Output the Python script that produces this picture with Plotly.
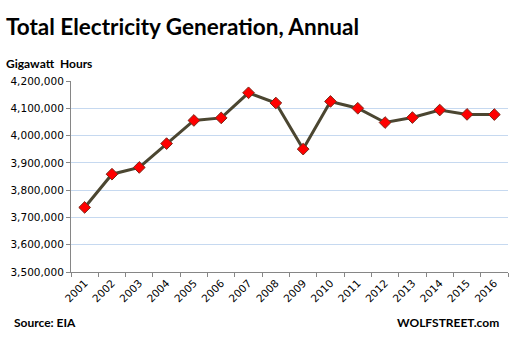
import plotly.graph_objects as go

years = [str(y) for y in range(2001, 2017)]
generation = [3736644, 3858452, 3883185, 3970555, 4055423, 4064702, 4156745, 4119388,
              3950331, 4125060, 4100141, 4047765, 4065964, 4093606, 4077601, 4077000]
y_ticks = [3500000, 3600000, 3700000, 3800000, 3900000, 4000000, 4100000, 4200000]

W, H = 514, 338
L, R, T, B = 71, 6, 81, 66
pw, ph = W - L - R, H - T - B

def px(x):
    return (x - L) / pw

def py(y):
    return (H - B - y) / ph

fig = go.Figure()
fig.add_trace(go.Scatter(
    x=years, y=generation, mode="lines+markers",
    line=dict(color="#4b4631", width=3),
    marker=dict(symbol="diamond", size=9, color="#ff0000",
                line=dict(color="#7a2a1a", width=1)),
    showlegend=False,
))

fig.update_layout(
    width=W, height=H,
    margin=dict(l=L, r=R, t=T, b=B),
    paper_bgcolor="white", plot_bgcolor="white",
    font=dict(family="DejaVu Sans", size=10.5, color="#000000"),
    xaxis=dict(
        type="category", showgrid=False, showline=True, linecolor="#868686", linewidth=1,
        ticks="outside", tickson="boundaries", ticklen=4, tickcolor="#868686",
        tickangle=-45, tickfont=dict(size=10.5), range=[-0.5, 15.5],
    ),
    yaxis=dict(
        range=[3500000, 4200000], tickvals=y_ticks,
        ticktext=[f"{v:,}" for v in y_ticks],
        showgrid=True, gridcolor="#c6d9f0", gridwidth=1,
        showline=True, linecolor="#868686", linewidth=1,
        ticks="outside", ticklen=4, tickcolor="#868686",
        zeroline=False, tickfont=dict(size=10.5),
    ),
    title=dict(
        text="<b>Total Electricity Generation, Annual</b>",
        x=6 / W, xanchor="left", xref="container",
        y=1 - 27 / H, yanchor="middle", yref="container",
        font=dict(family="Lato", size=22.5, color="#000000"),
    ),
)

fig.add_annotation(text="<b>Gigawatt  Hours</b>", xref="paper", yref="paper",
                   x=px(4), y=py(64), xanchor="left", yanchor="middle", showarrow=False,
                   font=dict(family="Lato", size=12, color="#000000"))
fig.add_annotation(text="<b>Source: EIA</b>", xref="paper", yref="paper",
                   x=px(12), y=py(322), xanchor="left", yanchor="middle", showarrow=False,
                   font=dict(family="Lato", size=12, color="#000000"))
fig.add_annotation(text="<b>WOLFSTREET.com</b>", xref="paper", yref="paper",
                   x=px(501), y=py(322), xanchor="right", yanchor="middle", showarrow=False,
                   font=dict(family="Lato", size=12, color="#000000"))

fig.write_html("out.html")
